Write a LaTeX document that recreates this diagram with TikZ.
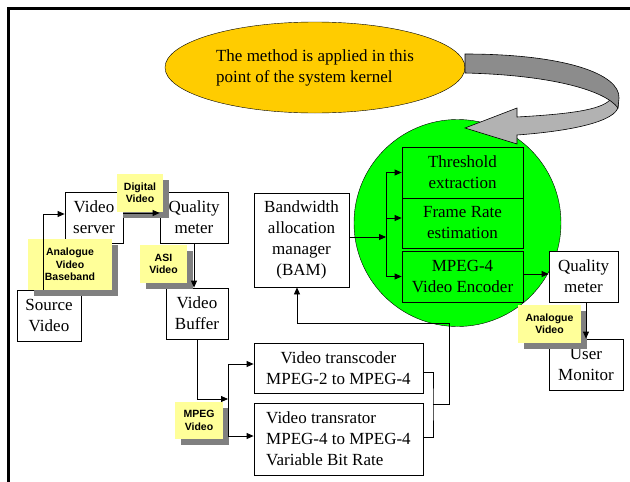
\documentclass[tikz,border=0pt]{standalone}
\usepackage{fontspec}
\setmainfont{Liberation Serif}
\newfontfamily\tagfont{Liberation Sans}
\usetikzlibrary{positioning,calc,arrows.meta,shapes.geometric,shadows}
\definecolor{kernelorange}{RGB}{255,204,0}
\definecolor{kernelgreen}{RGB}{0,255,0}
\definecolor{tagyellow}{RGB}{255,255,153}
\definecolor{tagshadow}{RGB}{128,128,128}
\definecolor{ribbondark}{RGB}{140,140,140}
\definecolor{ribbonlight}{RGB}{178,178,178}
\def\BoxHeight{51pt}
\def\StageWidth{121pt}
\tikzset{
  signal/.style={-{Triangle[length=7pt,width=6pt]},line width=0.8pt},
  wire/.style={line width=0.8pt},
  unit/.style={
    draw=black,
    fill=white,
    line width=0.8pt,
    align=center,
    minimum height=\BoxHeight,
    inner sep=0pt,
    font=\fontsize{17}{21}\selectfont
  },
  stage/.style={unit, fill=none, minimum width=\StageWidth},
  tag/.style={
    fill=tagyellow,
    align=center,
    inner sep=0pt,
    font=\tagfont\bfseries\fontsize{10.5}{12.3}\selectfont,
    drop shadow={shadow xshift=6pt, shadow yshift=-6pt, fill=tagshadow, opacity=1}
  }
}

\begin{document}
\begin{tikzpicture}[x=1pt,y=-1pt]
  \useasboundingbox (0,0) rectangle (630,482);

  % Page frame (top and left only).
  \draw[line width=2.5pt] (630,8.5) -| (8.5,482);

  \node[ellipse, draw=black, fill=kernelorange, minimum width=300pt, minimum height=91pt,
        inner sep=0pt, align=left, font=\fontsize{17}{21}\selectfont]
    (kernel) at (315,67.5) {The method is applied in this\\point of the system kernel};

  \node[circle, draw=black, fill=kernelgreen, minimum size=207pt, inner sep=0pt]
    (core) at (457.5,223) {};

  % Curled arrow from the note down to the kernel.
  \filldraw[fill=ribbonlight, line width=0.6pt]
    (610,100) .. controls (600,110) and (570,114) .. (517,117) -- (517,108) -- (465,128)
    -- (517,144) -- (517,135) .. controls (585,130) and (621,118) .. (618,104) -- cycle;
  \filldraw[fill=ribbondark, line width=0.6pt]
    (465,54) .. controls (565,54) and (620,74) .. (619,98) -- (618,108)
    .. controls (605,90) and (550,75) .. (465,73) -- cycle;

  \node[unit, minimum width=64pt] (source) at (49,315.5) {Source\\Video};
  \node[unit, minimum width=58pt] (server) at (94,217.5) {Video\\server};
  \node[unit, minimum width=68pt] (meterA) at (194,217.5) {Quality\\meter};
  \node[unit, minimum width=62pt] (buffer) at (197,313.5) {Video\\Buffer};
  \node[unit, minimum width=95pt, minimum height=94pt] (bam) at (301.5,240)
    {Bandwidth\\allocation\\manager\\(BAM)};

  \node[stage] (threshold) at (462.5,172.5) {Threshold\\extraction};
  \node[stage, minimum height=50pt] (framerate) at (462.5,223) {Frame Rate\\estimation};
  \node[stage] (encoder) at (462.5,276.5) {MPEG-4\\Video Encoder};

  \node[unit, minimum width=69pt] (meterB) at (583.5,276.5) {Quality\\meter};
  \node[unit, minimum width=74pt] (monitor) at (586,364.5) {User\\Monitor};
  \node[unit, minimum width=169pt, minimum height=50pt] (transcoder) at (338.5,368)
    {Video transcoder\\MPEG-2 to MPEG-4};
  \node[unit, minimum width=169pt, minimum height=72pt, align=left] (transrator) at (338.5,439)
    {Video transrator\\MPEG-4 to MPEG-4\\Variable Bit Rate};

  \node[tag, minimum width=46pt, minimum height=38pt] (tagDigital) at (140,193) {Digital\\Video};
  \node[tag, minimum width=84pt, minimum height=51pt] (tagBaseband) at (70,264.5) {Analogue\\Video\\Baseband};
  \node[tag, minimum width=47pt, minimum height=38pt] (tagASI) at (163.5,264) {ASI\\Video};
  \node[tag, minimum width=48pt, minimum height=37pt] (tagMPEG) at (199,420.5) {MPEG\\Video};
  \node[tag, minimum width=63pt, minimum height=38pt] (tagAnalogue) at (549.5,324) {Analogue\\Video};

  \coordinate (split) at (228,399);
  \coordinate (merge) at (433,404);
  \coordinate (feedback) at (449,323);
  \coordinate (fan) at (386,237);
  \coordinate (intoCoder) at ([yshift=4pt]transcoder.west);
  \coordinate (intoRator) at ([yshift=3pt]transrator.west);
  \coordinate (intoFrame) at ([yshift=5pt]framerate.west);

  \draw[signal] ([xshift=-6pt]source.north) |- ([yshift=3.5pt]server.west);
  \draw[signal] ([yshift=4.5pt]server.east) -- ([yshift=4.5pt]meterA.west);
  \draw[signal] (meterA.south) -- (meterA.south |- buffer.north);
  \draw[signal] (buffer.south) |- (split);
  \draw[signal] (split) |- (intoCoder);
  \draw[signal] (split) |- (intoRator);

  % Both coders report back to the BAM.
  \draw[wire] ([yshift=-4pt]transcoder.east) -| (merge) |- ([yshift=2pt]transrator.east);
  \draw[signal] (merge) -| (feedback) -| ([xshift=-4.5pt]bam.south);

  \draw[signal] ([yshift=3pt]bam.east) -- (fan);
  \draw[signal] (fan) |- (threshold.west);
  \draw[signal] (fan) |- (intoFrame);
  \draw[signal] (fan) |- (encoder.west);

  \draw[signal] ([yshift=2.5pt]encoder.east) -- ([yshift=2.5pt]meterB.west);
  \draw[signal] (meterB.south -| monitor.north) -- (monitor.north);
\end{tikzpicture}
\end{document}
